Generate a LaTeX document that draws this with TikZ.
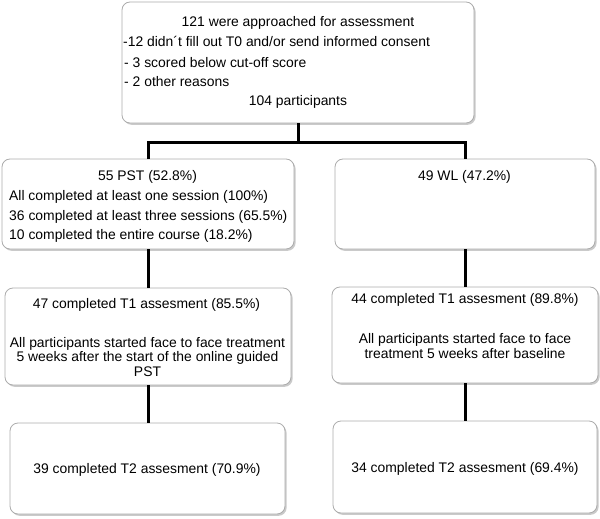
\documentclass[tikz,border=0pt]{standalone}
\usepackage{fontspec}
\setmainfont{Liberation Sans}
\usetikzlibrary{shadows}
\begin{document}
\begin{tikzpicture}[x=1pt,y=-1pt,
  box/.style={draw=gray!65, line width=0.8pt, rounded corners=8pt, fill=white, inner sep=0pt,
    drop shadow={shadow xshift=1.6pt, shadow yshift=-1.8pt, fill=gray!70, opacity=0.6}},
  txt/.style={font=\fontsize{13.9}{15}\selectfont, inner sep=0pt, anchor=base},
  txtl/.style={txt, anchor=base west},
  conn/.style={line width=3pt, black}]
\useasboundingbox (0,0) rectangle (600,519);
% boxes
\node[box, minimum width=352pt, minimum height=121pt] (top) at (298,62.5) {};
\node[box, minimum width=292pt, minimum height=90pt] (pst) at (148,204) {};
\node[box, minimum width=260pt, minimum height=90pt] (wl) at (465,204) {};
\node[box, minimum width=286pt, minimum height=97pt] (t1l) at (148,336.5) {};
\node[box, minimum width=266pt, minimum height=96pt] (t1r) at (465,335) {};
\node[box, minimum width=275pt, minimum height=91pt] (t2l) at (147.5,468.5) {};
\node[box, minimum width=264pt, minimum height=92pt] (t2r) at (465,467) {};
% texts
\node[txt] (a1) at (298,27) {121 were approached for assessment};
\node[txtl] (a2) at (123,47) {-12 didn´t fill out T0 and/or send informed consent};
\node[txtl] (a3) at (124,67) {- 3 scored below cut-off score};
\node[txtl] (a4) at (124,86) {- 2 other reasons};
\node[txt] (a5) at (298,106) {104 participants};
\node[txt] (b1) at (147.5,180) {55 PST (52.8\%)};
\node[txtl] (b2) at (9,200) {All completed at least one session (100\%)};
\node[txtl] (b3) at (9,220) {36 completed at least three sessions (65.5\%)};
\node[txtl] (b4) at (9,239) {10 completed the entire course (18.2\%)};
\node[txt] (c1) at (464.5,180) {49 WL (47.2\%)};
\node[txt] (d1) at (146.5,308) {47 completed T1 assesment (85.5\%)};
\node[txt] (d2) at (147.5,347) {All participants started face to face treatment};
\node[txt] (d3) at (147.5,361.5) {5 weeks after the start of the online guided};
\node[txt] (d4) at (147.5,376.5) {PST};
\node[txt] (e1) at (465,303) {44 completed T1 assesment (89.8\%)};
\node[txt] (e2) at (465,343) {All participants started face to face};
\node[txt] (e3) at (465,358) {treatment 5 weeks after baseline};
\node[txt] (f1) at (147,473) {39 completed T2 assesment (70.9\%)};
\node[txt] (g1) at (465,472) {34 completed T2 assesment (69.4\%)};
% connectors
\coordinate (j) at (298,142);
\draw[conn] (top.south) -- (j);
\draw[conn] (pst.north) |- (j) -| (wl.north);
\draw[conn] (pst.south) -- (t1l.north);
\draw[conn] (wl.south) -- (t1r.north);
\draw[conn] (t1l.south) -- (t1l.south |- t2l.north);
\draw[conn] (t1r.south) -- (t2r.north);
\end{tikzpicture}
\end{document}
